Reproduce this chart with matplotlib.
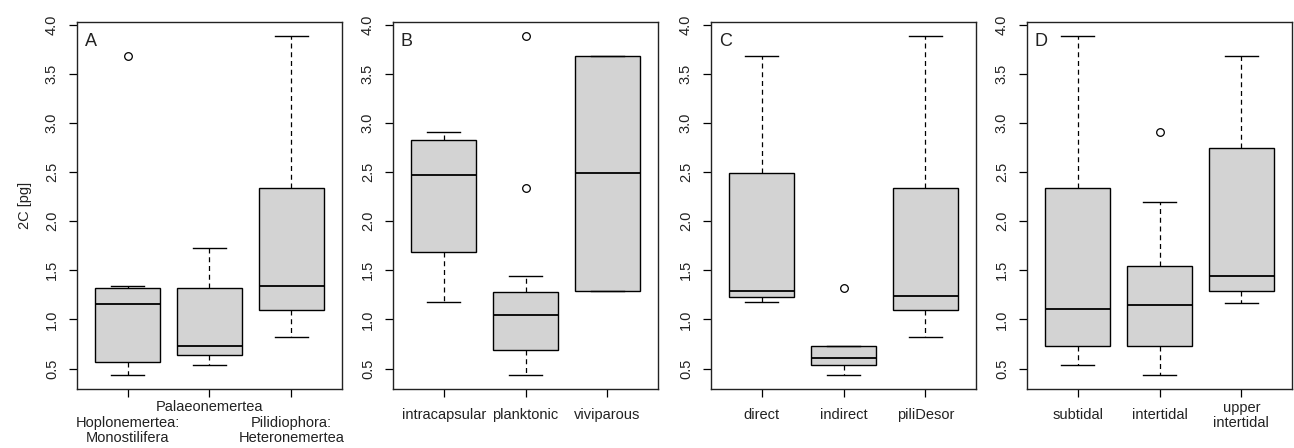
import matplotlib
matplotlib.use("Agg")
import matplotlib.pyplot as plt

plt.rcParams["font.family"] = ["Liberation Sans", "DejaVu Sans"]

# panel A: clade (middle label sits one line higher)
A_labels = ["Hoplonemertea:\nMonostilifera", "Palaeonemertea", "Pilidiophora:\nHeteronemertea"]
A_whislo = [0.43, 0.54, 0.82]
A_q1     = [0.57, 0.64, 1.10]
A_med    = [1.16, 0.73, 1.34]
A_q3     = [1.32, 1.32, 2.34]
A_whishi = [1.34, 1.73, 3.89]
A_fliers = [[3.68], [], []]

# panel B: development
B_labels = ["intracapsular", "planktonic", "viviparous"]
B_whislo = [1.18, 0.43, 1.29]
B_q1     = [1.69, 0.69, 1.29]
B_med    = [2.47, 1.04, 2.49]
B_q3     = [2.83, 1.28, 3.68]
B_whishi = [2.91, 1.44, 3.68]
B_fliers = [[], [2.34, 3.89], []]

# panel C: larva type
C_labels = ["direct", "indirect", "piliDesor"]
C_whislo = [1.18, 0.43, 0.82]
C_q1     = [1.23, 0.54, 1.10]
C_med    = [1.29, 0.61, 1.24]
C_q3     = [2.49, 0.73, 2.34]
C_whishi = [3.68, 0.73, 3.89]
C_fliers = [[], [1.32], []]

# panel D: habitat
D_labels = ["subtidal", "intertidal", "upper\nintertidal"]
D_whislo = [0.54, 0.43, 1.17]
D_q1     = [0.73, 0.73, 1.29]
D_med    = [1.11, 1.15, 1.44]
D_q3     = [2.34, 1.54, 2.75]
D_whishi = [3.89, 2.20, 3.68]
D_fliers = [[], [2.91], []]

yticks = [0.5, 1.0, 1.5, 2.0, 2.5, 3.0, 3.5, 4.0]

panels = [
    ("A", A_labels, A_whislo, A_q1, A_med, A_q3, A_whishi, A_fliers),
    ("B", B_labels, B_whislo, B_q1, B_med, B_q3, B_whishi, B_fliers),
    ("C", C_labels, C_whislo, C_q1, C_med, C_q3, C_whishi, C_fliers),
    ("D", D_labels, D_whislo, D_q1, D_med, D_q3, D_whishi, D_fliers),
]

INK = "#222222"
FS = 10.5

W, H = 1294, 448
fig = plt.figure(figsize=(W / 100, H / 100), dpi=100)
lefts = [77, 393, 711, 1027]
ax_w, top, bottom = 265, 22, 389

for i, (tag, labels, wlo, q1, med, q3, whi, fl) in enumerate(panels):
    ax = fig.add_axes([lefts[i] / W, 1 - bottom / H, ax_w / W, (bottom - top) / H])
    stats = []
    for k in range(3):
        stats.append(dict(whislo=wlo[k], q1=q1[k], med=med[k], q3=q3[k],
                          whishi=whi[k], fliers=fl[k]))
    ax.bxp(stats, positions=[1, 2, 3], widths=0.8, patch_artist=True,
           showfliers=True,
           boxprops=dict(facecolor="#d3d3d3", edgecolor="black", linewidth=1.0),
           medianprops=dict(color="black", linewidth=1.3),
           whiskerprops=dict(color="black", linewidth=0.9, linestyle=(0, (4, 3))),
           capprops=dict(color="black", linewidth=1.0),
           capwidths=0.4,
           flierprops=dict(marker="o", markersize=5.5, markerfacecolor="none",
                           markeredgecolor="black", markeredgewidth=0.9))

    allv = list(wlo) + list(whi) + [v for f in fl for v in f]
    lo, hi = min(allv), max(allv)
    pad = (hi - lo) * 0.04
    ax.set_ylim(lo - pad, hi + pad)
    ax.set_xlim(0.5 - 0.12, 3.5 + 0.12)

    ax.set_yticks(yticks)
    ax.set_yticklabels([f"{v:.1f}" for v in yticks], rotation=90, va="center",
                       fontsize=FS, color=INK)
    ax.tick_params(axis="y", direction="out", length=6, width=0.9, pad=7)

    if tag == "A":
        # outer labels as major ticks, the middle one as a minor tick one line up
        ax.set_xticks([1, 3])
        ax.set_xticklabels([labels[0], labels[2]], fontsize=FS, va="center",
                           linespacing=1.1, color=INK)
        ax.set_xticks([2], minor=True)
        ax.set_xticklabels([labels[1]], minor=True, fontsize=FS, va="center",
                           color=INK)
        ax.tick_params(axis="x", which="major", direction="out", length=6,
                       width=0.9, pad=24)
        ax.tick_params(axis="x", which="minor", direction="out", length=6,
                       width=0.9, pad=7)
        ax.set_ylabel("2C [pg]", fontsize=FS, labelpad=9, color=INK)
    else:
        ax.set_xticks([1, 2, 3])
        ax.set_xticklabels(labels, fontsize=FS, va="center", linespacing=1.15,
                           color=INK)
        ax.tick_params(axis="x", direction="out", length=6, width=0.9, pad=13)

    for s in ax.spines.values():
        s.set_linewidth(1.0)
        s.set_color(INK)

    ax.text(0.03, 0.97, tag, transform=ax.transAxes, fontsize=13,
            ha="left", va="top", color=INK)

fig.savefig("out.png", dpi=100)
